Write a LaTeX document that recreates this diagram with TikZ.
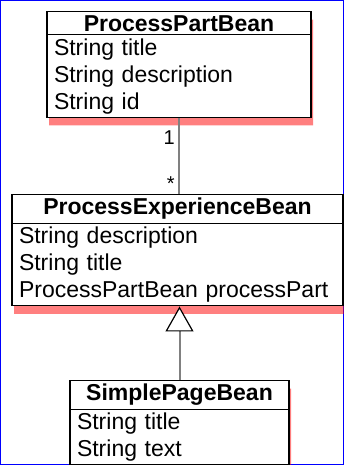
\documentclass[tikz,border=0pt]{standalone}
\usepackage{fontspec}
\setmainfont{Liberation Sans}
\usetikzlibrary{shapes.multipart,arrows.meta,shadows}

\newcommand{\classhead}[1]{\hbox to \hsize{\hss\bfseries #1\hss}}

\begin{document}
\begin{tikzpicture}[
    x=1pt, y=1pt,
    softshadow/.style={
        drop shadow={shadow xshift=2pt, shadow yshift=-8pt, fill=red}},
    umlclass/.style={rectangle split, rectangle split parts=2, draw, fill=white,
        line width=1.2pt, align=left, inner xsep=7pt, inner ysep=3pt,
        font=\fontsize{23}{27}\selectfont, softshadow},
    assoc/.style={draw=gray, line width=2pt},
    generalize/.style={draw=gray, line width=2pt,
        -{Triangle[width=28pt, length=25pt, fill=white, color=black, line width=1.2pt]}}
]
\useasboundingbox (0,0) rectangle (344,-465);
\draw[blue] (0.5,-0.5) rectangle (343.5,-464.5);

% Classes
\node[umlclass, text width=250pt, anchor=north] (ppb) at (179,-11) {
    \classhead{ProcessPartBean}
    \nodepart{two}
    String title\\
    String description\\
    String id};

\node[umlclass, text width=317pt, anchor=north] (peb) at (177.5,-194) {
    \classhead{ProcessExperienceBean}
    \nodepart{two}
    String description\\
    String title\\
    ProcessPartBean processPart};

\node[umlclass, text width=205pt, anchor=north] (spb) at (179.5,-380) {
    \classhead{SimplePageBean}
    \nodepart{two}
    String title\\
    String text};

% Connections
\draw[assoc] (ppb.south) -- (ppb.south |- peb.north)
    node[pos=0.26, left, font=\fontsize{20}{20}\selectfont] {1}
    node[pos=0.86, left, font=\fontsize{20}{20}\selectfont] {*};
\draw[generalize] (spb.north) -- (spb.north |- peb.south);

\end{tikzpicture}
\end{document}
